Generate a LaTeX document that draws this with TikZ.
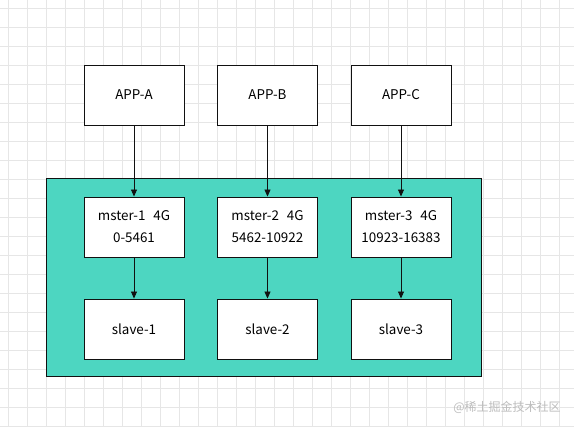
\documentclass[tikz,border=0pt]{standalone}
\usepackage{fontspec}
\newfontfamily\cjk{Noto Sans CJK SC}
\usetikzlibrary{arrows.meta}
\definecolor{teal1}{HTML}{4DD6C1}
\definecolor{gridc}{HTML}{E6E6E6}
\definecolor{edge}{HTML}{111111}
\definecolor{wm}{HTML}{BDBDBD}
\tikzset{
  box/.style={draw=edge, fill=white, line width=0.9pt, minimum width=100pt, minimum height=60pt, inner sep=0pt, align=center, font=\cjk\fontsize{13.4}{22}\selectfont},
  conn/.style={draw=edge, line width=0.9pt, -{Triangle[length=7pt,width=6pt]}}
}
\begin{document}
\begin{tikzpicture}[x=1pt,y=-1pt]
\useasboundingbox (0,0) rectangle (574,427);
\fill[white] (0,0) rectangle (574,427);
\foreach \k in {0,...,29} {
  \draw[gridc, line width=0.8pt] ({8.5+19*\k},0) -- ({8.5+19*\k},427);
}
\foreach \k in {0,...,22} {
  \draw[gridc, line width=0.8pt] (0,{8.3+19*\k}) -- (574,{8.3+19*\k});
}
\node[draw=edge, fill=teal1, line width=0.9pt, minimum width=435pt, minimum height=198pt, inner sep=0pt] (cl) at (264,277) {};
\node[box] (a) at (134,95) {APP-A};
\node[box] (b) at (267.5,95) {APP-B};
\node[box] (c) at (401,95) {APP-C};
\node[box] (m1) at (134,227) {mster-1\hspace{8pt}4G\\0-5461};
\node[box] (m2) at (267.5,227) {mster-2\hspace{8pt}4G\\5462-10922};
\node[box] (m3) at (401,227) {mster-3\hspace{8pt}4G\\10923-16383};
\node[box] (s1) at (134,329) {slave-1};
\node[box] (s2) at (267.5,329) {slave-2};
\node[box] (s3) at (401,329) {slave-3};
\draw[conn] (a) -- (m1);
\draw[conn] (b) -- (m2);
\draw[conn] (c) -- (m3);
\draw[conn] (m1) -- (s1);
\draw[conn] (m2) -- (s2);
\draw[conn] (m3) -- (s3);
\node[text=wm, font=\cjk\fontsize{12}{14}\selectfont, inner sep=0pt] (w) at (507,407) {@稀土掘金技术社区};
\end{tikzpicture}
\end{document}
